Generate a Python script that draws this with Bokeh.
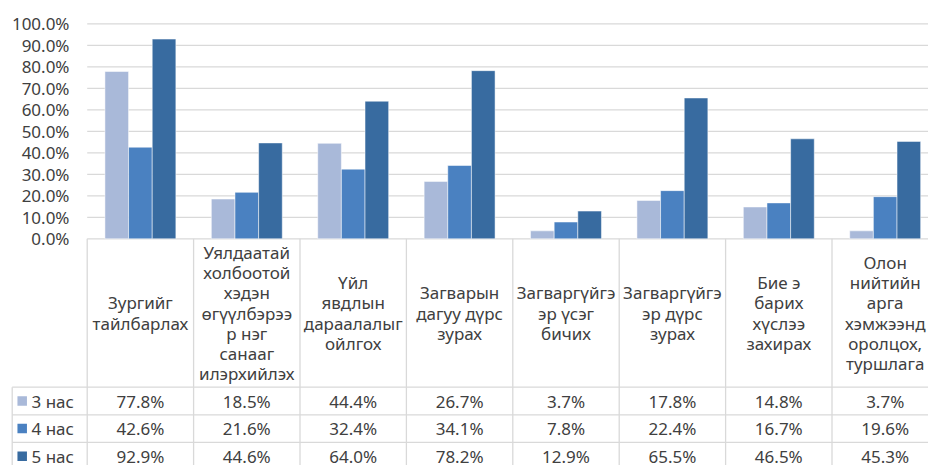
from bokeh.plotting import figure
from bokeh.models import Range1d
from bokeh.core.properties import value
from bokeh.embed import file_html
from bokeh.resources import INLINE

# ---------------- data ----------------
categories = [
    "Зургийг\nтайлбарлах",
    "Уялдаатай\nхолбоотой\nхэдэн\nөгүүлбэрээ\nр нэг\nсанааг\nилэрхийлэх",
    "Үйл\nявдлын\nдараалалыг\nойлгох",
    "Загварын\nдагуу дүрс\nзурах",
    "Загваргүйгэ\nэр үсэг\nбичих",
    "Загваргүйгэ\nэр дүрс\nзурах",
    "Бие э\nбарих\nхүслээ\nзахирах",
    "Олон\nнийтийн\nарга\nхэмжээнд\nоролцох,\nтуршлага",
]
series_names = ["3 нас", "4 нас", "5 нас"]
age3 = [77.8, 18.5, 44.4, 26.7, 3.7, 17.8, 14.8, 3.7]
age4 = [42.6, 21.6, 32.4, 34.1, 7.8, 22.4, 16.7, 19.6]
age5 = [92.9, 44.6, 64.0, 78.2, 12.9, 65.5, 46.5, 45.3]
y_ticks = [0, 10, 20, 30, 40, 50, 60, 70, 80, 90, 100]

series = [age3, age4, age5]
colors = ["#a9b9d9", "#4a81c1", "#386ba0"]

# ---------------- layout constants (pixels) ----------------
W, H = 928, 465
X0 = 86.7          # left edge of first category column
CW = 106.4         # category column width
Y0 = 238.3         # pixel of 0 %
PPU = 2.15         # pixels per percent
HEAD_BOTTOM = 386.7
ROW_H = 27.6
LEG_LEFT = 11.7
LINE_H = 20.3
FONT = value("Noto Sans")
TXT = "#404040"
GRID = "#d9d9d9"

p = figure(width=W, height=H, output_backend="svg", toolbar_location=None,
           x_range=Range1d(-X0 / CW, (W - X0) / CW),
           y_range=Range1d(-(H - Y0) / PPU, Y0 / PPU),
           min_border=0, outline_line_color=None)
p.axis.visible = False
p.grid.visible = False
p.extra_y_ranges = {"py": Range1d(H, 0)}

def px_to_x(px):
    return (px - X0) / CW

n = len(categories)
x_right = px_to_x(W + 20)

# gridlines (0..100)
p.segment(x0=[0] * len(y_ticks), x1=[x_right] * len(y_ticks), y0=y_ticks, y1=y_ticks,
          line_color=GRID, line_width=1.3)

# y tick labels
p.text(x=[px_to_x(69)] * len(y_ticks), y=y_ticks,
       text=[f"{t:.1f}%" for t in y_ticks],
       text_align="right", text_baseline="middle", text_font=FONT,
       text_font_size="17px", text_color=TXT)

# bars
bw = 1 / 4.5
for s, (vals, col) in enumerate(zip(series, colors)):
    xs = [i + 0.5 + (s - 1) * bw for i in range(n)]
    p.vbar(x=xs, top=vals, bottom=0, width=bw, fill_color=col,
           line_color="white", line_alpha=0.5, line_width=1)

# ---------------- data table ----------------
xs_v = list(range(n + 1))
p.segment(x0=xs_v, x1=xs_v, y0=[Y0] * len(xs_v), y1=[H + 20] * len(xs_v),
          y_range_name="py", line_color=GRID, line_width=1.3)
p.segment(x0=[px_to_x(LEG_LEFT)], x1=[px_to_x(LEG_LEFT)], y0=[HEAD_BOTTOM], y1=[H + 20],
          y_range_name="py", line_color=GRID, line_width=1.3)
row_tops = [HEAD_BOTTOM + k * ROW_H for k in range(len(series) + 1)]
p.segment(x0=[px_to_x(LEG_LEFT)] * len(row_tops), x1=[x_right] * len(row_tops),
          y0=row_tops, y1=row_tops, y_range_name="py", line_color=GRID, line_width=1.3)

# header labels, one text per line, block centred in the header cell
hx, hy, ht = [], [], []
yc_head = (Y0 + HEAD_BOTTOM) / 2
for i, label in enumerate(categories):
    lines = label.split("\n")
    m = len(lines)
    for j, line in enumerate(lines):
        hx.append(i + 0.5)
        hy.append(yc_head + (j - (m - 1) / 2) * LINE_H)
        ht.append(line)
p.text(x=hx, y=hy, text=ht, y_range_name="py", text_align="center",
       text_baseline="middle", text_font=FONT, text_font_size="17px", text_color=TXT)

# rows
for s, (vals, col, name) in enumerate(zip(series, colors, series_names)):
    yc = HEAD_BOTTOM + (s + 0.5) * ROW_H
    p.rect(x=[px_to_x(21.7)], y=[yc], width=9.5 / CW, height=9.5, y_range_name="py",
           fill_color=col, line_color=None)
    p.text(x=[px_to_x(31)], y=[yc], text=[name], y_range_name="py",
           text_align="left", text_baseline="middle", text_font=FONT,
           text_font_size="17px", text_color=TXT)
    p.text(x=[i + 0.5 for i in range(n)], y=[yc] * n, text=[f"{v:.1f}%" for v in vals],
           y_range_name="py", text_align="center", text_baseline="middle",
           text_font=FONT, text_font_size="17px", text_color=TXT)

open("out.html", "w").write(file_html(p, INLINE))
